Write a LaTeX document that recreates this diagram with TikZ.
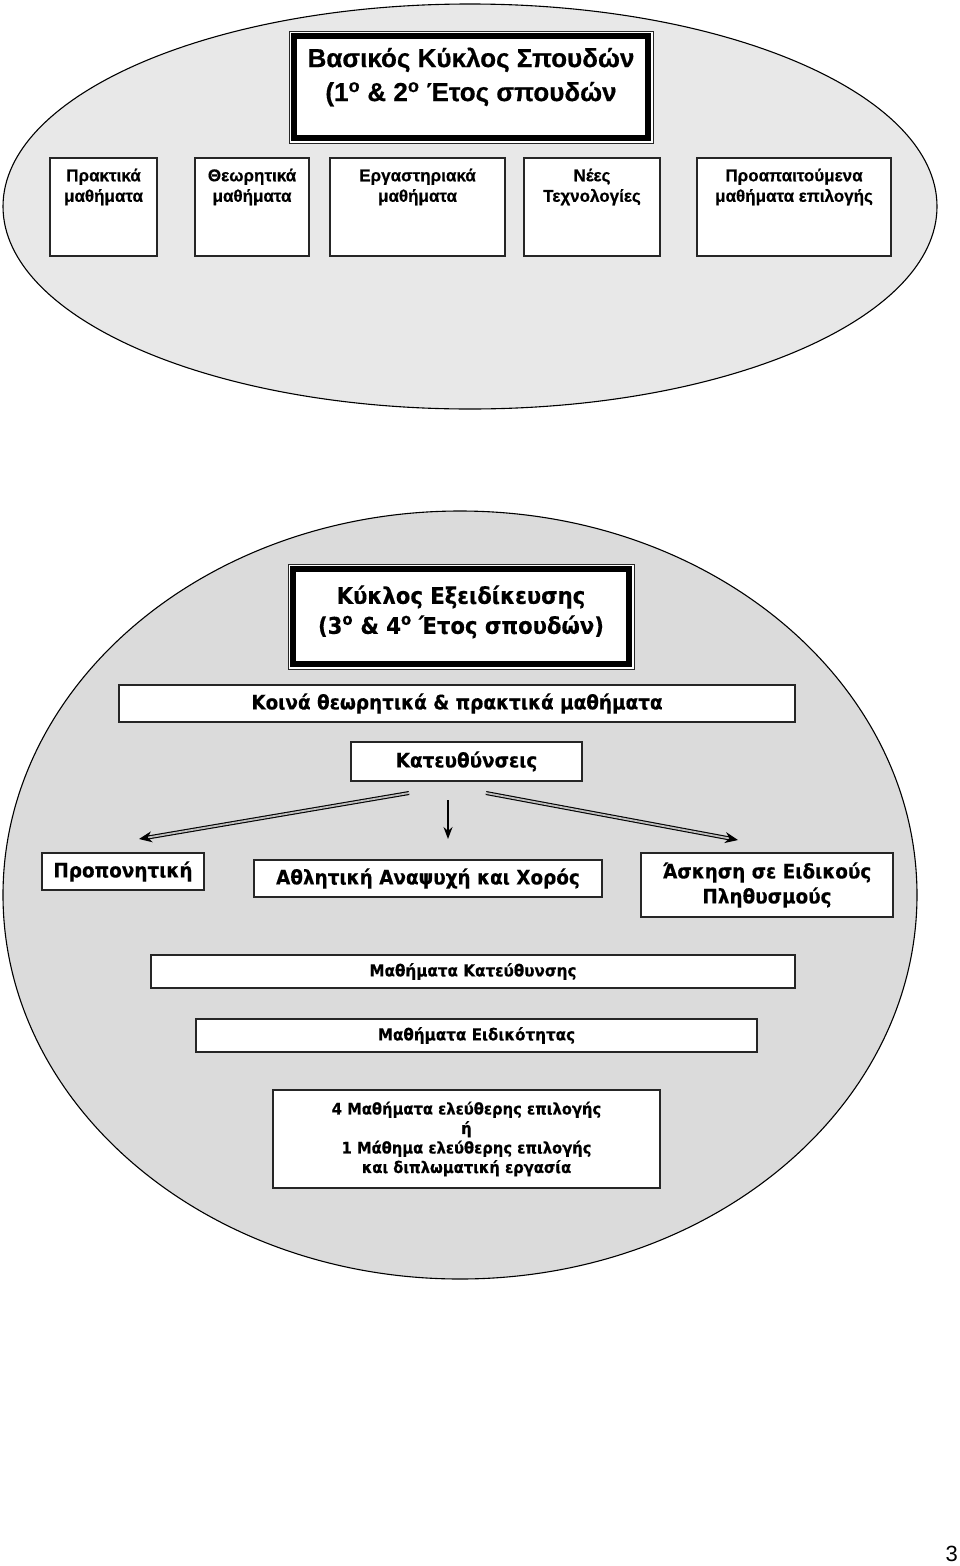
\documentclass[tikz,border=0pt]{standalone}
\usepackage{fontspec}
\setmainfont{Liberation Sans}[BoldFeatures={FakeBold=0.6}]
\newfontfamily\tahoma{DejaVu Sans}[FakeStretch=0.92,BoldFeatures={FakeBold=0.4}]
\usetikzlibrary{arrows.meta}

\begin{document}
\begin{tikzpicture}
    [x=1pt,y=-1pt,
     box/.style={draw=black!85,line width=1.1pt,fill=white,inner sep=0pt,align=center},
     subj/.style={box,minimum height=98pt},
     lbl/.style={align=center,inner sep=0pt,font=\fontsize{17}{20.5}\selectfont\bfseries},
     dirbox/.style={box,font=\tahoma\fontsize{20}{25}\selectfont\bfseries},
     lesson/.style={box,minimum height=33pt,font=\tahoma\fontsize{16.5}{20}\selectfont\bfseries},
     frame/.style={line width=6.5pt},
     dirarrow/.style={double=gray!50,double distance=1.8pt,line width=1.1pt,-{Stealth[length=13pt,width=11pt]}}]
    \useasboundingbox (0,0) rectangle (960,1566);
    % the two cycles
    \draw[line width=1.1pt,fill=black!9] (470,206.5) ellipse [x radius=467,y radius=202.5];
    \draw[line width=1.1pt,fill=black!14] (460,895) ellipse [x radius=457,y radius=384];
    % first cycle
    \node[box,line width=1pt,minimum width=364pt,minimum height=112pt] (base) at (471,87) {};
    \draw[frame] ([xshift=5.5pt,yshift=-5.5pt]base.north west) rectangle ([xshift=-5.5pt,yshift=5.5pt]base.south east);
    \node[lbl,font=\fontsize{26}{34}\selectfont\bfseries] (base-t) at (471,77) {Βασικός Κύκλος Σπουδών\\(1\textsuperscript{ο} \& 2\textsuperscript{ο} Έτος σπουδών};
    \node[subj,minimum width=107pt] (prak) at (103.5,207) {};
    \node[subj,minimum width=114pt] (theo) at (252,207) {};
    \node[subj,minimum width=175pt] (erg) at (417.5,207) {};
    \node[subj,minimum width=136pt] (tech) at (592,207) {};
    \node[subj,minimum width=194pt] (proa) at (794,207) {};
    \node[lbl] (prak-t) at (103.5,187) {Πρακτικά\\μαθήματα};
    \node[lbl] (theo-t) at (252,187) {Θεωρητικά\\μαθήματα};
    \node[lbl] (erg-t) at (417.5,187) {Εργαστηριακά\\μαθήματα};
    \node[lbl] (tech-t) at (592,187) {Νέες\\Τεχνολογίες};
    \node[lbl] (proa-t) at (794,187) {Προαπαιτούμενα\\μαθήματα επιλογής};
    % second cycle
    \node[box,line width=1pt,minimum width=346pt,minimum height=105pt] (spec) at (461,616.5) {};
    \draw[frame] ([xshift=5.5pt,yshift=-5.5pt]spec.north west) rectangle ([xshift=-5.5pt,yshift=5.5pt]spec.south east);
    \node[lbl,font=\tahoma\fontsize{23}{30}\selectfont\bfseries] (spec-t) at (461,612) {Κύκλος Εξειδίκευσης\\(3\textsuperscript{ο} \& 4\textsuperscript{ο} Έτος σπουδών)};
    \node[dirbox,minimum width=676pt,minimum height=37pt] (common) at (457,703.5) {Κοινά θεωρητικά \& πρακτικά μαθήματα};
    \node[dirbox,minimum width=231pt,minimum height=39pt] (dirs) at (466.5,761.5) {Κατευθύνσεις};
    \node[dirbox,minimum width=162pt,minimum height=37pt] (coach) at (123,871.5) {Προπονητική};
    \node[dirbox,minimum width=348pt,minimum height=37pt] (recr) at (428,878.5) {Αθλητική Αναψυχή και Χορός};
    \node[dirbox,minimum width=252pt,minimum height=64pt] (pop) at (767,885) {Άσκηση σε Ειδικούς\\Πληθυσμούς};
    \coordinate (l0) at (409,793);
    \coordinate (l1) at (139,839);
    \coordinate (m0) at (448,800);
    \coordinate (m1) at (448,839);
    \coordinate (r0) at (486,793);
    \coordinate (r1) at (738,840);
    \draw[dirarrow] (l0) -- (l1);
    \draw[dirarrow] (r0) -- (r1);
    \draw[line width=1.4pt,-{Stealth[length=12pt,width=9pt]}] (m0) -- (m1);
    \node[lesson,minimum width=644pt] (dirl) at (473,971.5) {Μαθήματα Κατεύθυνσης};
    \node[lesson,minimum width=561pt] (specl) at (476.5,1035.5) {Μαθήματα Ειδικότητας};
    \node[lesson,minimum width=387pt,minimum height=98pt,font=\tahoma\fontsize{16}{19.5}\selectfont\bfseries] (free) at (466.5,1139) {4 Μαθήματα ελεύθερης επιλογής\\ή\\1 Μάθημα ελεύθερης επιλογής\\και διπλωματική εργασία};
    \node[anchor=south east,inner sep=0pt,font=\fontsize{22}{22}\selectfont] (page) at (958,1562) {3};
\end{tikzpicture}
\end{document}
